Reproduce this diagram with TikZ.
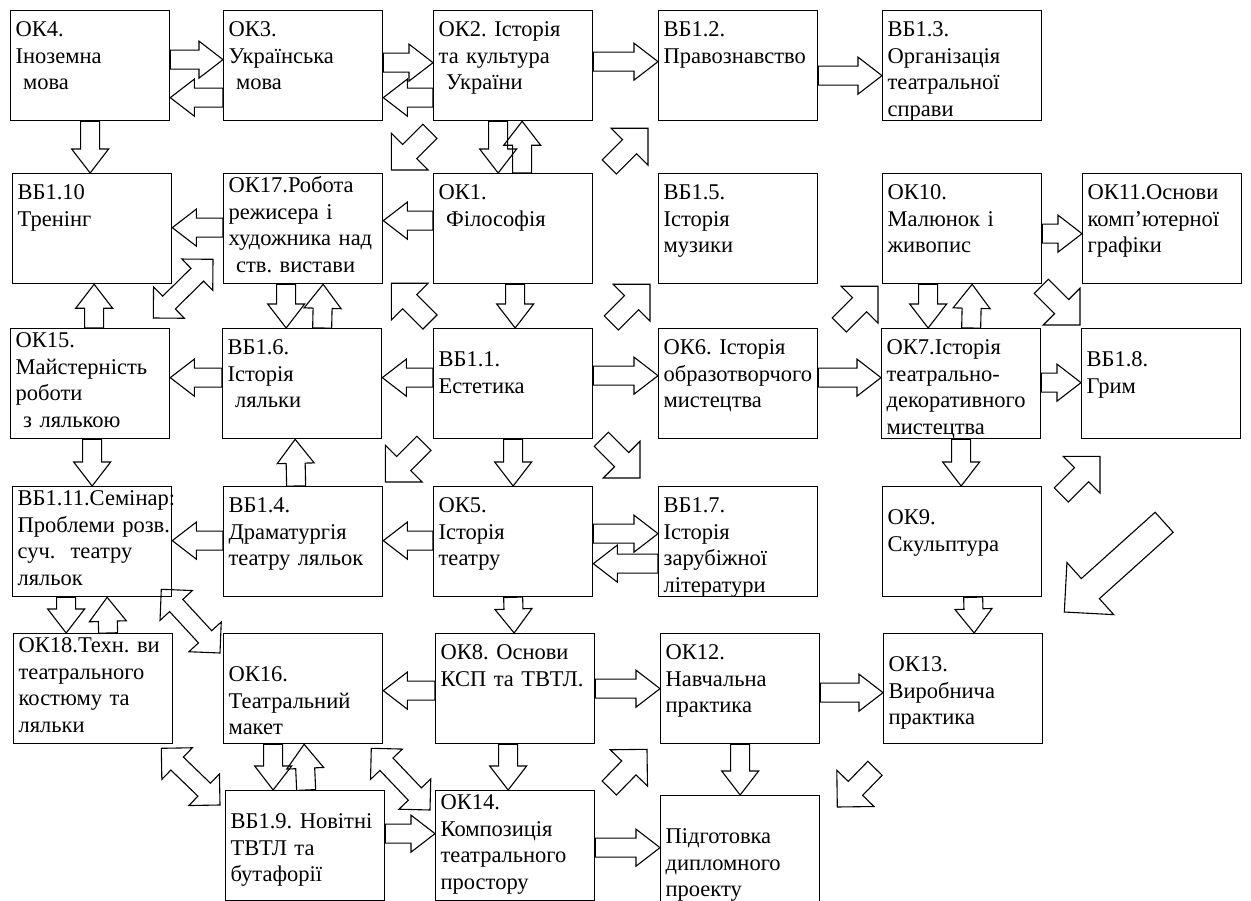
\documentclass[tikz,border=0pt]{standalone}
\usepackage{fontspec}
\setmainfont{Liberation Serif}
\usetikzlibrary{calc}

\tikzset{
  blk shaft/.store in=\blkshaft,
  blk head/.store in=\blkhead,
  blk len/.store in=\blklen,
  blk shaft=9.5pt, blk head=18.5pt, blk len=24pt
}

% hollow block arrow from #2 to #3
\newcommand{\blockarrow}[3][]{%
  \begin{scope}[#1]
    \coordinate (bS) at (#2);
    \coordinate (bT) at (#3);
    \coordinate (bB) at ($(bT)!\blklen!(bS)$);
    \draw[arrowLine] ($(bS)!\blkshaft!90:(bT)$) -- ($(bB)!\blkshaft!90:(bT)$)
      -- ($(bB)!\blkhead!90:(bT)$) -- (bT) -- ($(bB)!\blkhead!-90:(bT)$)
      -- ($(bB)!\blkshaft!-90:(bT)$) -- ($(bS)!\blkshaft!-90:(bT)$) -- cycle;
  \end{scope}}

% hollow block arrow with two heads
\newcommand{\pairarrow}[3][]{%
  \begin{scope}[#1]
    \coordinate (bS) at (#2);
    \coordinate (bT) at (#3);
    \coordinate (bA) at ($(bS)!\blklen!(bT)$);
    \coordinate (bB) at ($(bT)!\blklen!(bS)$);
    \draw[arrowLine] (bS) -- ($(bA)!\blkhead!90:(bT)$) -- ($(bA)!\blkshaft!90:(bT)$)
      -- ($(bB)!\blkshaft!90:(bT)$) -- ($(bB)!\blkhead!90:(bT)$) -- (bT)
      -- ($(bB)!\blkhead!-90:(bT)$) -- ($(bB)!\blkshaft!-90:(bT)$)
      -- ($(bA)!\blkshaft!-90:(bT)$) -- ($(bA)!\blkhead!-90:(bT)$) -- cycle;
  \end{scope}}

\begin{document}
\frenchspacing
\begin{tikzpicture}[x=1pt,y=-1pt]

  \tikzstyle{courseBox} = [draw, line width=1.3pt, anchor=north west,
    text width=149pt, align=left, inner xsep=5pt, inner ysep=4pt,
    text height=22pt, text depth=80pt,
    font=\fontsize{22.5pt}{26.5pt}\selectfont];
  \tikzstyle{textUp} = [text height=15pt, text depth=87pt];
  \tikzstyle{textLow} = [text height=34pt, text depth=68pt];
  \tikzstyle{textLower} = [text height=44pt, text depth=58pt];
  \tikzstyle{arrowLine} = [line width=1.1pt, line join=miter];
  \tikzstyle{diagArrow} = [blk shaft=10pt, blk head=26pt, blk len=26pt];
  \tikzstyle{bigArrow} = [blk shaft=13.5pt, blk head=35pt, blk len=35pt];
  \tikzstyle{pairDiag} = [blk shaft=9pt, blk head=22pt, blk len=22pt];

  \fill[white] (0,0) rectangle (1251,901);
  \useasboundingbox (0,0) rectangle (1251,901);

  % row 1
  \node[courseBox] (ok4)  at (10,10)  {ОК4.\\Іноземна\\~мова};
  \node[courseBox] (ok3)  at (223,10) {ОК3.\\Українська\\~мова};
  \node[courseBox] (ok2)  at (433,10) {ОК2.~Історія\\та~культура\\~України};
  \node[courseBox] (vb12) at (658,10) {ВБ1.2.\\Правознавство};
  \node[courseBox] (vb13) at (882,10) {ВБ1.3.\\Організація\\театральної\\справи};

  % row 2
  \node[courseBox] (vb110) at (12,173)   {ВБ1.10\\Тренінг};
  \node[courseBox, textUp] (ok17) at (223,173) {ОК17.Робота\\режисера~і\\художника~над\\~ств.~вистави};
  \node[courseBox] (ok1)   at (433,173)  {ОК1.\\~Філософія};
  \node[courseBox] (vb15)  at (658,173)  {ВБ1.5.\\Історія\\музики};
  \node[courseBox] (ok10)  at (882,173)  {ОК10.\\Малюнок~і\\живопис};
  \node[courseBox] (ok11)  at (1082,173) {ОК11.Основи\\комп’ютерної\\графіки};

  % row 3
  \node[courseBox, textUp] (ok15) at (10,328) {ОК15.\\Майстерність\\роботи\\~з~лялькою};
  \node[courseBox] (vb16) at (222,328) {ВБ1.6.\\Історія\\~ляльки};
  \node[courseBox, textLow] (vb11) at (433,328) {ВБ1.1.\\Естетика};
  \node[courseBox] (ok6)  at (658,328) {ОК6.~Історія\\образотворчого\\мистецтва};
  \node[courseBox] (ok7)  at (881,328) {ОК7.Історія\\театрально-\\декоративного\\мистецтва};
  \node[courseBox, textLow] (vb18) at (1081,328) {ВБ1.8.\\Грим};

  % row 4
  \node[courseBox, textUp] (vb111) at (12,486) {ВБ1.11.Семінар:\\Проблеми~розв.\\суч.~~театру\\ляльок};
  \node[courseBox] (vb14) at (223,486) {ВБ1.4.\\Драматургія\\театру~ляльок};
  \node[courseBox] (ok5)  at (433,486) {ОК5.\\Історія\\театру};
  \node[courseBox] (vb17) at (658,486) {ВБ1.7.\\Історія\\зарубіжної\\літератури};
  \node[courseBox, textLow] (ok9) at (882,486) {ОК9.\\Скульптура};

  % row 5
  \node[courseBox, textUp] (ok18) at (13,633) {ОК18.Техн.~ви\\театрального\\костюму~та\\ляльки};
  \node[courseBox, textLower] (ok16) at (223,633) {ОК16.\\Театральний\\макет};
  \node[courseBox] (ok8)  at (435,633) {ОК8.~Основи\\КСП~та~ТВТЛ.};
  \node[courseBox] (ok12) at (660,633) {ОК12.\\Навчальна\\практика};
  \node[courseBox, textLow] (ok13) at (883,633) {ОК13.\\Виробнича\\практика};

  % row 6
  \node[courseBox, textLow] (vb19) at (225,790) {ВБ1.9.~Новітні\\ТВТЛ~та\\бутафорії};
  \node[courseBox, textUp] (ok14) at (435,790) {ОК14.\\Композиція\\театрального\\простору};
  \node[courseBox, textLower] (pdp) at (660,795) {Підготовка\\дипломного\\проекту};

  % horizontal arrows
  \blockarrow{[yshift=6pt]ok4.east}{[yshift=6pt]ok3.west}
  \blockarrow{[yshift=-32pt]ok3.west}{[yshift=-32pt]ok4.east}
  \blockarrow{[yshift=3pt]ok3.east}{[yshift=3pt]ok2.west}
  \blockarrow{[yshift=-32pt]ok2.west}{[yshift=-32pt]ok3.east}
  \blockarrow{[yshift=4pt]ok2.east}{[yshift=4pt]vb12.west}
  \blockarrow{[yshift=-10pt]vb12.east}{[yshift=-10pt]vb13.west}
  \blockarrow{[yshift=1pt]ok17.west}{[yshift=1pt]vb110.east}
  \blockarrow{[yshift=8pt]ok1.west}{[yshift=8pt]ok17.east}
  \blockarrow{[yshift=-5pt]ok10.east}{[yshift=-5pt]ok11.west}
  \blockarrow{[yshift=6pt]vb16.west}{[yshift=6pt]ok15.east}
  \blockarrow{[yshift=6pt]vb11.west}{[yshift=6pt]vb16.east}
  \blockarrow{[yshift=8pt]vb11.east}{[yshift=8pt]ok6.west}
  \blockarrow{[yshift=6pt]ok6.east}{[yshift=6pt]ok7.west}
  \blockarrow{[yshift=1pt]ok7.east}{[yshift=1pt]vb18.west}
  \blockarrow{[yshift=1pt]vb14.west}{[yshift=1pt]vb111.east}
  \blockarrow{[yshift=1pt]ok5.west}{[yshift=1pt]vb14.east}
  \blockarrow{[yshift=8pt]ok5.east}{[yshift=8pt]vb17.west}
  \blockarrow{[yshift=-22pt]vb17.west}{[yshift=-22pt]ok5.east}
  \blockarrow{[yshift=-2pt]ok8.west}{[yshift=-2pt]ok16.east}
  \blockarrow{ok8.east}{ok12.west}
  \blockarrow{[yshift=-4pt]ok12.east}{[yshift=-4pt]ok13.west}
  \blockarrow{[yshift=12pt]vb19.east}{[yshift=12pt]ok14.west}
  \blockarrow{[yshift=-2pt]ok14.east}{[yshift=3pt]pdp.west}

  % vertical arrows
  \blockarrow{ok4.south}{[xshift=-2pt]vb110.north}
  \blockarrow{[xshift=-15pt]ok2.south}{[xshift=-15pt]ok1.north}
  \blockarrow{[xshift=9pt]ok1.north}{[xshift=9pt]ok2.south}
  \blockarrow{[xshift=4pt]ok15.north}{[xshift=2pt]vb110.south}
  \blockarrow{[xshift=-17pt]ok17.south}{[xshift=-16pt]vb16.north}
  \blockarrow{[xshift=20pt]vb16.north}{[xshift=20pt]ok17.south}
  \blockarrow{[xshift=2pt]ok1.south}{[xshift=2pt]vb11.north}
  \blockarrow{[xshift=-34pt]ok10.south}{[xshift=-33pt]ok7.north}
  \blockarrow{[xshift=10pt]ok7.north}{[xshift=10pt]ok10.south}
  \blockarrow{[xshift=2pt]ok15.south}{vb111.north}
  \blockarrow{[xshift=-7pt]vb14.north}{[xshift=-7pt]vb16.south}
  \blockarrow{vb11.south}{ok5.north}
  \blockarrow{ok7.south}{[xshift=-1pt]ok9.north}
  \blockarrow{[xshift=-26pt]vb111.south}{[xshift=-27pt]ok18.north}
  \blockarrow{[xshift=15pt]ok18.north}{[xshift=15pt]vb111.south}
  \blockarrow{ok5.south}{[xshift=-1pt]ok8.north}
  \blockarrow{[xshift=11pt]ok9.south}{[xshift=11pt]ok13.north}
  \blockarrow{[xshift=-30pt]ok16.south}{[xshift=-32pt]vb19.north}
  \blockarrow{[xshift=1pt]vb19.north}{[xshift=1pt]ok16.south}
  \blockarrow{[xshift=-7pt]ok8.south}{[xshift=-7pt]ok14.north}
  \blockarrow{ok12.south}{pdp.north}

  % diagonal arrows
  \blockarrow[diagArrow]{[xshift=-3pt,yshift=-10pt]ok2.south west}{[xshift=8pt,yshift=3pt]ok17.north east}
  \blockarrow[diagArrow]{[xshift=16pt,yshift=6pt]ok1.north east}{[xshift=-10pt,yshift=-7pt]vb12.south west}
  \blockarrow[diagArrow]{[xshift=-3pt,yshift=6pt]vb11.north west}{[xshift=8pt,yshift=1pt]ok17.south east}
  \blockarrow[diagArrow]{[xshift=18pt,yshift=5pt]vb11.north east}{[xshift=-8pt]vb15.south west}
  \blockarrow[diagArrow]{[xshift=21pt,yshift=3pt]ok6.north east}{[xshift=-4pt,yshift=-2pt]ok10.south west}
  \blockarrow[diagArrow]{[xshift=-1pt,yshift=-2pt]ok10.south east}{[xshift=-1pt,yshift=3pt]vb18.north west}
  \blockarrow[diagArrow]{[xshift=-9pt,yshift=-4pt]vb11.south west}{[xshift=2pt,yshift=4pt]vb14.north east}
  \blockarrow[diagArrow]{[xshift=8pt]vb11.south east}{[xshift=-18pt,yshift=8pt]vb17.north west}
  \blockarrow[diagArrow]{[xshift=19pt,yshift=-9pt]ok9.north east}{[xshift=19pt,yshift=-17pt]vb18.south west}
  \blockarrow[diagArrow]{[xshift=14pt,yshift=2pt]ok14.north east}{[xshift=-13pt,yshift=-5pt]ok12.south west}
  \blockarrow[diagArrow]{[xshift=-8pt,yshift=-24pt]ok13.south west}{[xshift=17pt,yshift=-12pt]pdp.north east}
  \blockarrow[bigArrow]{[xshift=3pt,yshift=-83pt]vb18.south}{[xshift=21pt,yshift=21pt]ok13.north east}

  % two-headed diagonal arrows
  \pairarrow[pairDiag]{[xshift=-17pt,yshift=10pt]ok15.north east}{[xshift=-10pt,yshift=25pt]ok17.south west}
  \pairarrow[pairDiag]{[xshift=-11pt,yshift=8pt]vb111.south east}{[xshift=-3pt,yshift=-20pt]ok16.north west}
  \pairarrow[pairDiag]{[xshift=-12pt,yshift=-4pt]ok18.south east}{[xshift=-5pt,yshift=-15pt]vb19.north west}
  \pairarrow[pairDiag]{[xshift=-12pt,yshift=-4pt]ok16.south east}{[xshift=-5pt,yshift=-20pt]ok14.north west}

\end{tikzpicture}
\end{document}
